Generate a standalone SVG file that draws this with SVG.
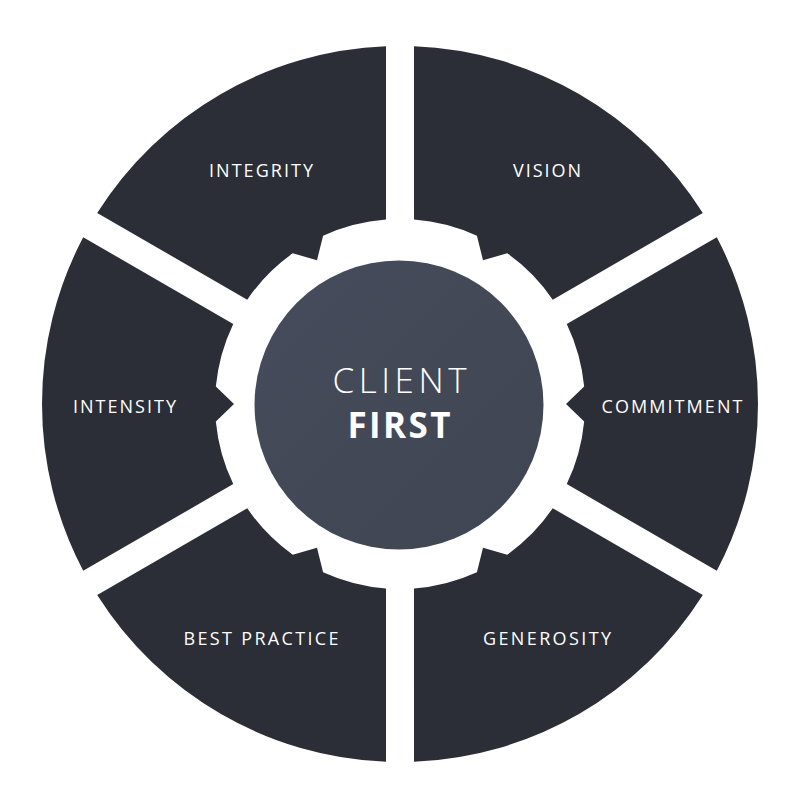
<svg xmlns="http://www.w3.org/2000/svg" width="800" height="800" viewBox="0 0 800 800">
<defs>
<style>
.seg{fill:#2b2e37}
.lbl{font-family:"Open Sans","Liberation Sans",sans-serif;font-size:18px;fill:#ffffff;text-anchor:middle}
.c1{font-family:"Open Sans","Liberation Sans",sans-serif;font-size:35px;font-weight:300;fill:#ffffff;text-anchor:middle}
.c2{font-family:"Open Sans","Liberation Sans",sans-serif;font-size:35px;font-weight:700;fill:#ffffff;text-anchor:middle}
</style>
<path id="seg" d="M166.75,80.11 L316.79,166.74 A358,358 0 0 0 316.79,-166.74 L166.75,-80.11 A185,185 0 0 1 184.17,-17.5 L166,0 L184.17,17.5 A185,185 0 0 1 166.75,80.11 Z"/>
<linearGradient id="cg" x1="0" y1="0" x2="1" y2="1">
<stop offset="0" stop-color="#464c5b"/>
<stop offset="1" stop-color="#404553"/>
</linearGradient>
</defs>
<rect width="800" height="800" fill="#ffffff"/>
<g id="commitment">
<use href="#seg" class="seg" transform="translate(400,404)"/>
<text class="lbl" x="672" y="412.5" textLength="141" lengthAdjust="spacing">COMMITMENT</text>
</g>
<g id="vision">
<use href="#seg" class="seg" transform="translate(400,404) rotate(-60)"/>
<text class="lbl" x="547" y="177" textLength="68" lengthAdjust="spacing">VISION</text>
</g>
<g id="integrity">
<use href="#seg" class="seg" transform="translate(400,404) rotate(-120)"/>
<text class="lbl" x="261" y="177" textLength="104" lengthAdjust="spacing">INTEGRITY</text>
</g>
<g id="intensity">
<use href="#seg" class="seg" transform="translate(400,404) rotate(180)"/>
<text class="lbl" x="124.5" y="412.5" textLength="103" lengthAdjust="spacing">INTENSITY</text>
</g>
<g id="best-practice">
<use href="#seg" class="seg" transform="translate(400,404) rotate(120)"/>
<text class="lbl" x="261" y="645" textLength="155" lengthAdjust="spacing">BEST PRACTICE</text>
</g>
<g id="generosity">
<use href="#seg" class="seg" transform="translate(400,404) rotate(60)"/>
<text class="lbl" x="547" y="645" textLength="128" lengthAdjust="spacing">GENEROSITY</text>
</g>
<g id="client-first">
<circle cx="399" cy="405" r="144.5" fill="url(#cg)"/>
<text class="c1" x="399.5" y="392.7" textLength="134" lengthAdjust="spacing">CLIENT</text>
<text class="c2" x="399" y="438.3" textLength="103" lengthAdjust="spacing">FIRST</text>
</g>
</svg>
